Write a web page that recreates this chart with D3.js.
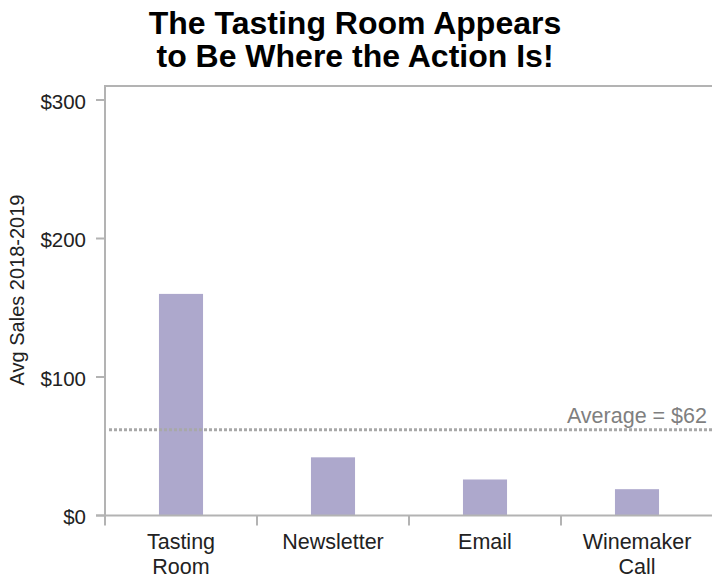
<!doctype html>
<html>
<head>
<meta charset="utf-8">
<title>The Tasting Room Appears to Be Where the Action Is!</title>
<script src="https://d3js.org/d3.v7.min.js"></script>
<style>
  body { margin: 0; background: #fff; }
  svg { display: block; font-family: "Liberation Sans", Arial, sans-serif; }
</style>
</head>
<body>
<svg width="712" height="579"></svg>
<script>
var categories = [["Tasting", "Room"], ["Newsletter"], ["Email"], ["Winemaker", "Call"]];
var sales = [160, 42, 26, 19];
var yTicks = [0, 100, 200, 300];
var average = 62;

var svg = d3.select("svg");
var margin = {left: 105, right: -1, top: 86, bottom: 63.5};
var W = 712, H = 579;

var x = d3.scaleBand()
  .domain(d3.range(categories.length))
  .range([margin.left, W - margin.right])
  .paddingInner(0.71).paddingOuter(0.355);

var xb = d3.scaleLinear().domain([0, categories.length]).range([margin.left, W - margin.right]);

var y = d3.scaleLinear().domain([0, 300]).range([H - margin.bottom, 100]);

var axisColor = "#b3b3b3";

// title
svg.append("text").attr("x", 355).attr("y", 34).attr("text-anchor", "middle")
  .attr("font-size", 32).attr("font-weight", "bold").text("The Tasting Room Appears");
svg.append("text").attr("x", 355).attr("y", 67).attr("text-anchor", "middle")
  .attr("font-size", 32).attr("font-weight", "bold").text("to Be Where the Action Is!");

// frame top + left axis line
svg.append("line").attr("x1", margin.left).attr("x2", W).attr("y1", margin.top).attr("y2", margin.top)
  .attr("stroke", axisColor).attr("stroke-width", 2);
svg.append("line").attr("x1", margin.left).attr("x2", margin.left).attr("y1", margin.top - 1).attr("y2", y(0))
  .attr("stroke", axisColor).attr("stroke-width", 2);

// y ticks
var yg = svg.append("g");
yg.selectAll("line").data(yTicks).enter().append("line")
  .attr("x1", margin.left - 9).attr("x2", margin.left)
  .attr("y1", function(d) { return y(d); }).attr("y2", function(d) { return y(d); })
  .attr("stroke", axisColor).attr("stroke-width", 2);
yg.selectAll("text").data(yTicks).enter().append("text")
  .attr("x", 86).attr("y", function(d) { return y(d) + 8.5; })
  .attr("text-anchor", "end").attr("font-size", 20.5).attr("fill", "#222")
  .text(function(d) { return "$" + d; });

svg.append("text")
  .attr("transform", "translate(24," + 290 + ") rotate(-90)")
  .attr("text-anchor", "middle").attr("font-size", 20).attr("fill", "#222")
  .text("Avg Sales 2018-2019");

// bars
svg.selectAll("rect.bar").data(sales).enter().append("rect")
  .attr("class", "bar")
  .attr("x", function(d, i) { return x(i); })
  .attr("width", x.bandwidth())
  .attr("y", function(d) { return y(d); })
  .attr("height", function(d) { return y(0) - y(d); })
  .attr("fill", "#ada8cc");

// x axis
svg.append("line").attr("x1", margin.left - 9).attr("x2", W).attr("y1", y(0)).attr("y2", y(0))
  .attr("stroke", axisColor).attr("stroke-width", 2);
svg.selectAll("line.xt").data(d3.range(categories.length)).enter().append("line")
  .attr("class", "xt")
  .attr("x1", function(i) { return xb(i); }).attr("x2", function(i) { return xb(i); })
  .attr("y1", y(0)).attr("y2", y(0) + 10)
  .attr("stroke", axisColor).attr("stroke-width", 2);

var xl = svg.selectAll("text.xl").data(categories).enter().append("text")
  .attr("class", "xl")
  .attr("text-anchor", "middle").attr("font-size", 21.5).attr("fill", "#222")
  .attr("x", function(d, i) { return x(i) + x.bandwidth() / 2; })
  .attr("y", 549);
xl.selectAll("tspan").data(function(d) { return d; }).enter().append("tspan")
  .attr("x", function() { return d3.select(this.parentNode).attr("x"); })
  .attr("dy", function(d, j) { return j === 0 ? 0 : 25; })
  .text(function(d) { return d; });

// average line
svg.append("line").attr("x1", margin.left + 4).attr("x2", W).attr("y1", y(average)).attr("y2", y(average))
  .attr("stroke", "#a8a8a8").attr("stroke-width", 3).attr("stroke-dasharray", "3,2");
svg.append("text").attr("x", 707).attr("y", y(average) - 6.5)
  .attr("text-anchor", "end").attr("font-size", 21.5).attr("fill", "#7f7f7f")
  .text("Average = $" + average);
</script>
</body>
</html>
